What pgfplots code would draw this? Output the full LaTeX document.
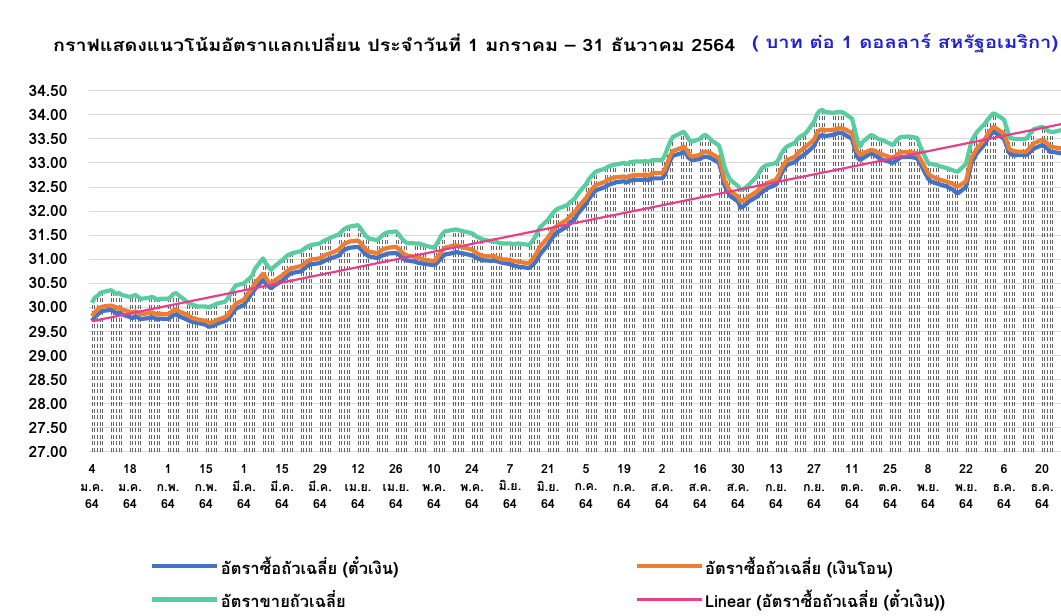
\documentclass[border=0pt]{standalone}
\usepackage{fontspec}
\setmainfont[Script=Thai]{Loma}
\usepackage{graphicx}
\usepackage{pgfplots}
\usepackage{pgfplotstable}
\pgfplotsset{compat=1.18}
\definecolor{cBlue}{RGB}{68,114,196}
\definecolor{cOrange}{RGB}{237,125,49}
\definecolor{cGreen}{RGB}{90,205,160}
\definecolor{cPink}{RGB}{232,62,140}
\definecolor{gridgray}{RGB}{217,217,217}
\definecolor{dropgray}{RGB}{100,100,100}
\definecolor{titleBlue}{RGB}{32,32,210}

\pgfplotstableread{
d B O G
0 29.72 29.82 30.10
1 29.80 29.90 30.20
2 29.85 29.95 30.24
3 29.90 30.00 30.30
4 29.93 30.02 30.32
7 29.95 30.04 30.36
8 29.92 30.02 30.32
9 29.88 29.98 30.28
10 29.90 30.00 30.30
11 29.86 29.96 30.26
14 29.80 29.91 30.22
15 29.78 29.90 30.24
16 29.82 29.92 30.26
17 29.79 29.89 30.22
18 29.76 29.86 30.18
21 29.78 29.88 30.20
22 29.80 29.90 30.22
23 29.78 29.88 30.20
24 29.75 29.85 30.16
25 29.77 29.87 30.18
28 29.76 29.86 30.18
29 29.80 29.90 30.22
30 29.84 29.94 30.28
31 29.86 29.96 30.30
32 29.82 29.92 30.25
35 29.75 29.85 30.12
36 29.72 29.81 30.08
37 29.70 29.78 30.06
38 29.69 29.77 30.04
39 29.68 29.75 30.02
42 29.64 29.72 30.02
43 29.60 29.68 30.00
44 29.61 29.69 30.03
45 29.63 29.71 30.05
46 29.66 29.74 30.08
49 29.72 29.80 30.12
50 29.75 29.84 30.18
51 29.82 29.92 30.28
52 29.90 30.00 30.38
53 29.98 30.08 30.46
56 30.05 30.16 30.50
57 30.15 30.26 30.56
58 30.22 30.32 30.60
59 30.30 30.40 30.66
60 30.38 30.50 30.80
63 30.57 30.70 31.02
64 30.50 30.62 30.92
65 30.44 30.54 30.84
66 30.40 30.48 30.78
67 30.45 30.55 30.84
70 30.55 30.66 30.98
71 30.60 30.71 31.03
72 30.66 30.76 31.08
73 30.70 30.80 31.11
74 30.72 30.82 31.13
77 30.75 30.86 31.17
78 30.80 30.90 31.21
79 30.85 30.95 31.25
80 30.88 30.98 31.28
81 30.90 31.00 31.30
84 30.92 31.02 31.33
85 30.95 31.06 31.37
86 30.98 31.09 31.40
87 31.00 31.11 31.42
88 31.02 31.13 31.45
91 31.08 31.20 31.52
92 31.15 31.27 31.58
93 31.20 31.32 31.63
94 31.22 31.35 31.66
95 31.24 31.37 31.68
98 31.26 31.39 31.71
99 31.22 31.34 31.64
100 31.15 31.26 31.55
101 31.10 31.20 31.48
102 31.06 31.16 31.43
105 31.03 31.13 31.40
106 31.05 31.16 31.44
107 31.08 31.20 31.50
108 31.10 31.22 31.54
109 31.12 31.24 31.56
112 31.13 31.26 31.58
113 31.10 31.22 31.52
114 31.05 31.16 31.44
115 31.00 31.11 31.38
116 30.98 31.08 31.34
119 30.95 31.05 31.33
120 30.93 31.03 31.33
121 30.92 31.02 31.32
122 30.91 31.00 31.30
123 30.90 30.99 31.28
126 30.88 30.96 31.24
127 30.92 31.02 31.32
128 30.98 31.10 31.42
129 31.05 31.18 31.52
130 31.10 31.24 31.58
133 31.13 31.28 31.61
134 31.15 31.29 31.62
135 31.14 31.28 31.61
136 31.13 31.26 31.59
137 31.12 31.25 31.58
140 31.08 31.20 31.54
141 31.05 31.16 31.50
142 31.02 31.12 31.46
143 31.00 31.09 31.44
144 30.98 31.07 31.41
147 30.97 31.06 31.38
148 30.98 31.07 31.38
149 30.96 31.04 31.36
150 30.95 31.02 31.34
151 30.93 31.00 31.33
154 30.90 30.99 31.33
155 30.88 30.97 31.32
156 30.86 30.96 31.32
157 30.85 30.95 31.33
158 30.84 30.94 31.32
161 30.82 30.92 31.30
162 30.86 30.98 31.36
163 30.92 31.06 31.44
164 31.00 31.15 31.55
165 31.10 31.26 31.66
168 31.30 31.45 31.82
169 31.40 31.54 31.90
170 31.48 31.62 31.97
171 31.54 31.68 32.03
172 31.58 31.72 32.06
175 31.68 31.82 32.12
176 31.75 31.89 32.18
177 31.80 31.94 32.22
178 31.85 31.99 32.27
179 31.95 32.08 32.36
182 32.15 32.27 32.56
183 32.25 32.37 32.66
184 32.32 32.44 32.72
185 32.40 32.51 32.79
186 32.44 32.55 32.83
189 32.50 32.61 32.88
190 32.54 32.65 32.92
191 32.56 32.67 32.94
192 32.58 32.69 32.96
193 32.60 32.70 32.97
196 32.62 32.72 33.00
197 32.60 32.70 32.98
198 32.63 32.73 33.01
199 32.64 32.74 33.02
200 32.65 32.75 33.03
203 32.65 32.75 33.03
204 32.66 32.76 33.04
205 32.64 32.74 33.02
206 32.67 32.77 33.05
207 32.68 32.79 33.06
210 32.68 32.79 33.06
211 32.75 32.86 33.15
212 32.90 33.00 33.30
213 33.05 33.15 33.44
214 33.15 33.25 33.54
217 33.20 33.31 33.62
218 33.23 33.34 33.65
219 33.18 33.28 33.57
220 33.10 33.18 33.48
221 33.06 33.13 33.44
224 33.08 33.17 33.50
225 33.12 33.22 33.56
226 33.13 33.23 33.58
227 33.12 33.22 33.54
228 33.10 33.20 33.48
231 33.00 33.10 33.36
232 32.80 32.90 33.16
233 32.54 32.65 32.92
234 32.42 32.53 32.78
235 32.32 32.42 32.66
238 32.20 32.30 32.52
239 32.07 32.20 32.44
240 32.10 32.22 32.46
241 32.15 32.26 32.50
242 32.20 32.30 32.55
245 32.30 32.41 32.72
246 32.36 32.47 32.82
247 32.40 32.51 32.90
248 32.44 32.55 32.94
249 32.48 32.59 32.96
252 32.55 32.65 33.00
253 32.65 32.75 33.08
254 32.78 32.88 33.20
255 32.88 32.98 33.28
256 32.96 33.06 33.34
259 33.02 33.13 33.42
260 33.08 33.20 33.50
261 33.12 33.25 33.55
262 33.16 33.30 33.58
263 33.20 33.34 33.62
266 33.35 33.48 33.85
267 33.48 33.61 34.00
268 33.55 33.68 34.08
269 33.58 33.70 34.10
270 33.56 33.68 34.06
273 33.58 33.69 34.04
274 33.60 33.70 34.05
275 33.62 33.72 34.06
276 33.62 33.72 34.06
277 33.60 33.71 34.04
280 33.50 33.62 33.92
281 33.30 33.42 33.70
282 33.12 33.24 33.46
283 33.06 33.17 33.34
284 33.10 33.20 33.44
287 33.20 33.27 33.58
288 33.18 33.26 33.56
289 33.14 33.23 33.52
290 33.10 33.20 33.49
291 33.07 33.18 33.48
294 33.02 33.12 33.40
295 33.00 33.10 33.37
296 33.04 33.14 33.44
297 33.08 33.19 33.50
298 33.12 33.22 33.54
301 33.13 33.23 33.55
302 33.12 33.22 33.54
303 33.11 33.21 33.53
304 33.10 33.20 33.52
305 33.00 33.10 33.36
308 32.68 32.79 33.00
309 32.62 32.73 32.98
310 32.60 32.71 32.97
311 32.58 32.68 32.96
312 32.56 32.66 32.94
315 32.51 32.61 32.89
316 32.48 32.59 32.87
317 32.45 32.57 32.85
318 32.40 32.53 32.83
319 32.37 32.51 32.82
322 32.50 32.62 32.98
323 32.75 32.86 33.22
324 33.00 33.11 33.45
325 33.10 33.20 33.55
326 33.20 33.30 33.64
329 33.40 33.50 33.82
330 33.50 33.60 33.90
331 33.58 33.68 33.97
332 33.65 33.75 34.03
333 33.62 33.72 34.01
336 33.50 33.61 33.90
337 33.35 33.45 33.72
338 33.20 33.28 33.54
339 33.17 33.26 33.51
340 33.16 33.24 33.50
343 33.17 33.23 33.50
344 33.16 33.23 33.50
345 33.20 33.28 33.56
346 33.25 33.35 33.64
347 33.30 33.41 33.70
350 33.37 33.48 33.75
351 33.34 33.45 33.72
352 33.30 33.40 33.68
353 33.23 33.34 33.65
354 33.23 33.33 33.64
357 33.20 33.30 33.68
358 33.25 33.35 33.70
359 33.30 33.40 33.74
}\ratedata

\begin{document}
\begin{tikzpicture}[x=1pt,y=1pt]
\begin{axis}[
  at={(89pt,164pt)}, anchor=south west,
  scale only axis, width=972pt, height=361.3pt,
  xmin=-1.1, xmax=357, ymin=27, ymax=34.5,
  axis line style={draw=none}, major tick length=0pt,
  ymajorgrids, grid style={draw=gridgray, line width=1pt},
  ytick={27,27.5,28,28.5,29,29.5,30,30.5,31,31.5,32,32.5,33,33.5,34,34.5},
  yticklabels={27.00,27.50,28.00,28.50,29.00,29.50,30.00,30.50,31.00,31.50,32.00,32.50,33.00,33.50,34.00,34.50},
  yticklabel style={font=\fontsize{15.5}{18}\selectfont\bfseries, xshift=-18pt},
  xtick={0,14,28,42,56,70,84,98,112,126,140,154,168,182,196,210,224,238,252,266,280,294,308,322,336,350},
  xticklabels={{4\\ม.ค.\\64},{18\\ม.ค.\\64},{1\\ก.พ.\\64},{15\\ก.พ.\\64},{1\\มี.ค.\\64},{15\\มี.ค.\\64},{29\\มี.ค.\\64},{12\\เม.ย.\\64},{26\\เม.ย.\\64},{10\\พ.ค.\\64},{24\\พ.ค.\\64},{7\\มิ.ย.\\64},{21\\มิ.ย.\\64},{5\\ก.ค.\\64},{19\\ก.ค.\\64},{2\\ส.ค.\\64},{16\\ส.ค.\\64},{30\\ส.ค.\\64},{13\\ก.ย.\\64},{27\\ก.ย.\\64},{11\\ต.ค.\\64},{25\\ต.ค.\\64},{8\\พ.ย.\\64},{22\\พ.ย.\\64},{6\\ธ.ค.\\64},{20\\ธ.ค.\\64}},
  xticklabel style={align=center, font=\fontsize{12.5}{17.5}\selectfont\bfseries, yshift=-9pt},
  legend columns=2,
  legend cell align=left,
  legend image code/.code={\draw[#1] (0pt,0pt) -- (65pt,0pt);},
  legend style={at={(axis description cs:0.0628,-0.285)}, anchor=north west, draw=none, fill=none, inner sep=0pt, column sep=0pt, row sep=11pt, cells={anchor=west}, nodes={inner sep=1.5pt, text width=412pt, font=\fontsize{16.5}{19}\selectfont\bfseries}},
]
\addplot[ycomb, draw=dropgray, line width=0.9pt, dash pattern=on 4pt off 2.5pt, forget plot] table[x=d,y=G]{\ratedata};
\addplot[cBlue, line width=4.2pt, line join=round] table[x=d,y=B]{\ratedata};
\addplot[cOrange, line width=4.2pt, line join=round] table[x=d,y=O]{\ratedata};
\addplot[cGreen, line width=4.2pt, line join=round] table[x=d,y=G]{\ratedata};
\addplot[cPink, line width=2.2pt] table[x=d,y={create col/linear regression={x=d,y=B}}]{\ratedata};
\legend{อัตราซื้อถัวเฉลี่ย (ตั๋วเงิน), อัตราซื้อถัวเฉลี่ย (เงินโอน), อัตราขายถัวเฉลี่ย, Linear (อัตราซื้อถัวเฉลี่ย (ตั๋วเงิน))}
\end{axis}
\node[anchor=west, inner sep=0pt, font=\fontsize{17}{19}\selectfont\bfseries] at (53pt,573pt) {\resizebox{682pt}{\height}{กราฟแสดงแนวโน้มอัตราแลกเปลี่ยน ประจำวันที่ 1 มกราคม – 31 ธันวาคม 2564}};
\node[anchor=west, inner sep=0pt, text=titleBlue, font=\fontsize{17}{19}\selectfont\bfseries] at (752pt,573pt) {\resizebox{306pt}{\height}{( บาท ต่อ 1 ดอลลาร์ สหรัฐอเมริกา)}};
\pgfresetboundingbox
\path (0pt,0pt) rectangle (1061pt,616pt);
\end{tikzpicture}
\end{document}
